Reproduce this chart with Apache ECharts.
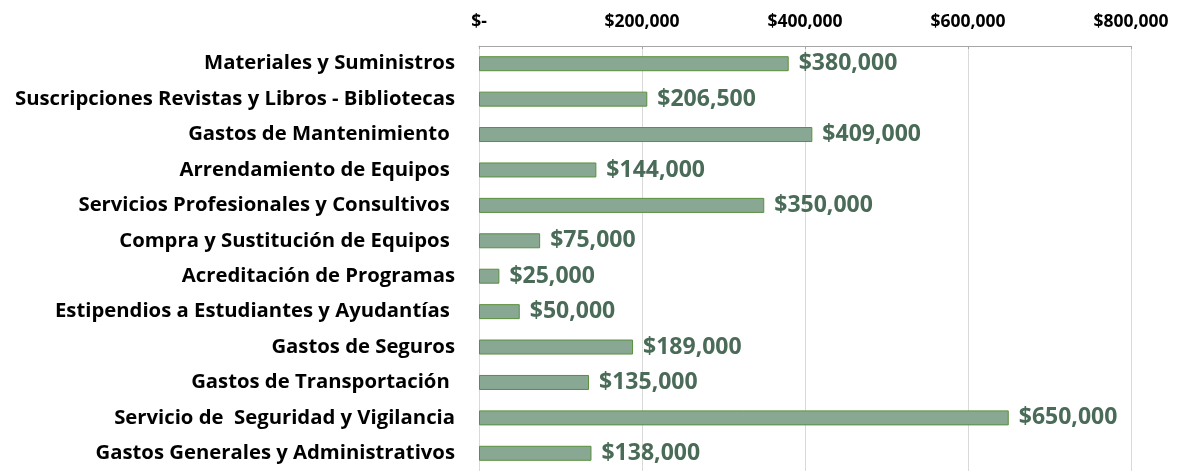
<!DOCTYPE html>
<html>
<head>
<meta charset="utf-8">
<script src="https://cdn.jsdelivr.net/npm/echarts@6/dist/echarts.min.js"></script>
<style>
  html, body {margin: 0; padding: 0; background: #fff;}
  #chart {width: 1178px; height: 471px;}
</style>
</head>
<body>
<div id="chart"></div>
<script>
// categories top to bottom
var categories = [
  'Materiales y Suministros',
  'Suscripciones Revistas y Libros - Bibliotecas',
  'Gastos de Mantenimiento ',
  'Arrendamiento de Equipos ',
  'Servicios Profesionales y Consultivos ',
  'Compra y Sustitución de Equipos ',
  'Acreditación de Programas',
  'Estipendios a Estudiantes y Ayudantías ',
  'Gastos de Seguros',
  'Gastos de Transportación ',
  'Servicio de  Seguridad y Vigilancia',
  'Gastos Generales y Administrativos'
];
var amounts = [380000, 206500, 409000, 144000, 350000, 75000, 25000, 50000, 189000, 135000, 650000, 138000];

var axisMax = 800000;
var axisStep = 200000;

function money(v) {
  if (v === 0) return '$-';
  return '$' + v.toLocaleString('en-US');
}

var myChart = echarts.init(document.getElementById('chart'));
myChart.setOption({
  animation: false,
  textStyle: {fontFamily: 'Open Sans'},
  grid: {
    left: 479,
    right: 47,
    top: 46,
    height: 428
  },
  xAxis: {
    type: 'value',
    position: 'top',
    min: 0,
    max: axisMax,
    interval: axisStep,
    axisLine: {show: true, lineStyle: {color: '#a6a6a6', width: 1}},
    axisTick: {show: true, length: 3, inside: true, lineStyle: {color: '#a6a6a6'}},
    axisLabel: {
      formatter: money,
      color: '#000',
      fontWeight: 'bold',
      fontSize: 17.5,
      margin: 15
    },
    splitLine: {show: true, lineStyle: {color: '#d9d9d9', width: 1}}
  },
  yAxis: {
    type: 'category',
    inverse: true,
    data: categories,
    axisLine: {show: true, lineStyle: {color: '#d9d9d9'}},
    axisTick: {show: false},
    axisLabel: {
      color: '#000',
      fontWeight: 'bold',
      fontSize: 20.3,
      margin: 24
    }
  },
  series: [
    {
      type: 'bar',
      data: amounts,
      barWidth: 15,
      itemStyle: {
        color: '#88a894',
        borderColor: '#5b8f3c',
        borderWidth: 1
      },
      label: {
        show: true,
        position: 'right',
        distance: 10,
        formatter: function (p) { return money(p.value); },
        color: '#4a6b57',
        fontWeight: 'bold',
        fontSize: 23
      }
    }
  ]
});
</script>
</body>
</html>
